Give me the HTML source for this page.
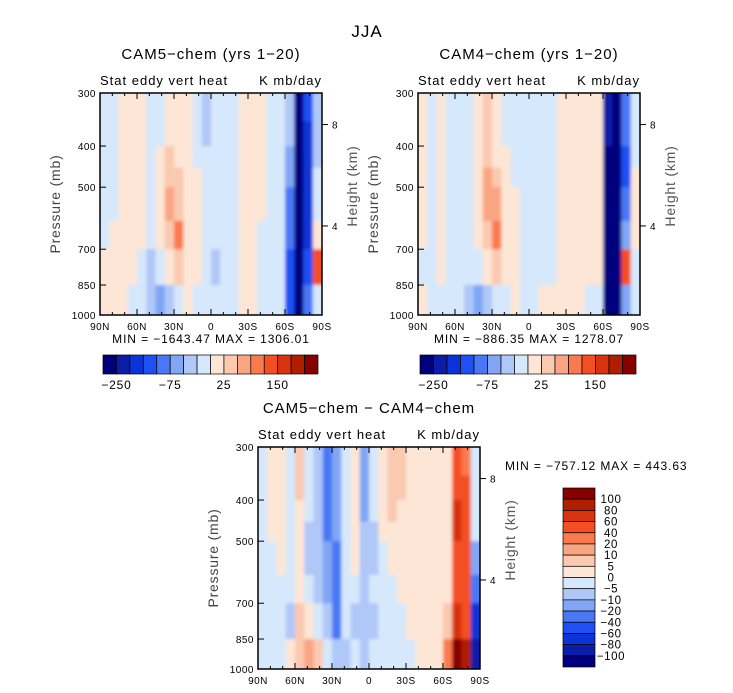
<!DOCTYPE html>
<html><head><meta charset="utf-8"><style>
body{margin:0;background:#fff}
svg{display:block;font-family:"Liberation Sans",sans-serif}
</style></head><body>
<svg id="c" width="733" height="693" viewBox="0 0 733 693" xmlns="http://www.w3.org/2000/svg">
<defs><filter id="soft" x="-5%" y="-5%" width="110%" height="110%"><feGaussianBlur stdDeviation="1.6"/></filter></defs>
<text x="367" y="37" font-size="17" letter-spacing="1" text-anchor="middle">JJA</text>
</svg>
<script>
const palette=['#00007f','#0a1ca8','#0a34d6','#1e50f5','#4a78f5','#80a6f5','#b0c8f8','#d6e8fb','#fde6d6','#fbc8b0','#f9a582','#f97a4e','#f44f22','#d83210','#b01e00','#870000'];
const colLats=[86.25,78.75,71.25,63.75,56.25,48.75,41.25,33.75,26.25,18.75,11.25,3.75,-3.75,-11.25,-18.75,-26.25,-33.75,-41.25,-48.75,-56.25,-63.75,-71.25,-78.75,-86.25];
const pressEdges=[300,350,400,450,500,600,700,850,1000];
const grid1=[
[7,7,8,8,8,7,7,8,8,8,7,6,7,7,7,8,8,8,7,7,6,0,3,6],
[7,7,8,8,8,7,7,8,8,8,7,6,7,7,7,8,8,8,7,7,6,0,2,6],
[7,7,8,8,8,7,8,9,8,8,7,7,7,7,7,8,8,8,7,7,5,0,2,6],
[7,7,8,8,8,7,8,9,9,8,8,7,7,7,7,8,8,8,7,7,5,0,2,7],
[7,7,8,8,8,7,8,10,9,8,8,7,7,7,7,8,8,8,7,7,4,0,2,7],
[7,8,8,8,8,7,8,9,11,8,8,7,7,7,7,8,8,7,7,7,4,0,2,8],
[8,8,8,8,7,6,7,8,9,8,8,7,6,7,7,8,8,7,7,7,3,0,3,12],
[8,8,8,7,7,6,5,6,7,8,7,7,7,7,7,8,8,7,7,7,3,0,4,7]];
const grid2=[
[8,7,8,7,7,7,8,9,8,7,7,7,7,7,7,8,8,8,8,8,1,0,4,7],
[8,7,8,7,7,7,8,9,8,7,7,7,7,7,7,8,8,8,8,8,1,0,4,7],
[8,7,8,7,7,7,8,9,8,8,7,7,7,7,7,8,8,8,8,8,0,0,3,7],
[8,7,8,7,7,7,8,10,9,8,7,7,7,7,7,8,8,8,8,8,0,0,3,8],
[8,7,8,7,7,7,8,10,10,8,8,7,7,7,7,8,8,8,8,8,0,0,4,8],
[8,7,8,7,7,7,8,9,11,8,8,7,7,7,7,8,8,8,8,8,0,0,5,8],
[7,7,8,7,7,7,7,8,9,8,8,7,7,7,7,8,8,8,8,8,0,0,12,7],
[8,7,7,7,7,6,5,6,7,7,8,7,7,8,8,8,8,8,7,7,0,0,5,7]];
const grid3=[
[7,8,8,7,9,7,6,4,5,7,8,5,7,8,9,9,8,8,8,8,8,12,11,7],
[7,8,8,7,9,7,6,4,5,7,8,5,7,8,9,9,8,8,8,8,8,12,12,7],
[7,8,8,7,8,7,6,4,5,7,8,5,7,8,9,8,8,8,8,8,8,13,12,7],
[7,8,8,7,8,6,6,4,5,7,8,6,6,8,8,8,8,8,8,8,8,13,12,7],
[7,7,8,7,8,6,6,5,4,7,8,6,6,7,8,8,8,8,8,8,8,12,12,5],
[7,7,7,7,8,7,6,5,4,7,7,6,7,7,7,8,8,8,8,8,8,12,12,4],
[7,7,7,6,9,8,7,6,4,7,6,6,6,7,7,7,8,8,8,8,9,13,12,2],
[7,7,7,8,9,10,9,7,6,6,7,6,7,7,7,7,7,8,8,8,11,15,14,1]];
const latTicks=[90,60,30,0,-30,-60,-90];
const latTickLabels=['90N','60N','30N','0','30S','60S','90S'];
const pTicks=[300,400,500,700,850,1000];
const hTicks=[{h:8,p:356},{h:4,p:617}];
const barLabels12=['\u2212250','\u221275','25','150'];
const barLabels3=['100','80','60','40','20','10','5','0','\u22125','\u221210','\u221220','\u221240','\u221260','\u221280','\u2212100'];

const svg=document.getElementById('c');
const NS='http://www.w3.org/2000/svg';
function mk(tag,attrs,parent){const e=document.createElementNS(NS,tag);for(const k in attrs)e.setAttribute(k,attrs[k]);(parent||svg).appendChild(e);return e;}
function txt(x,y,s,size,anchor,parent,ls){const t=mk('text',{x:x,y:y,'font-size':size,'text-anchor':anchor||'middle','letter-spacing':ls||0},parent);t.textContent=s;return t;}
let clipN=0;
function panel(id,L,T,W,H,grid,title,minmax,mmx,mmy,mmAnchor){
  const g=mk('g',{});
  
  
  const xs=lat=>L+(90-lat)/180*W;
  const ys=p=>T+H-Math.log(1000/p)/Math.log(1000/300)*H;
  const cid='clip'+(clipN++);
  const cp=mk('clipPath',{id:cid},svg.querySelector('defs'));
  mk('rect',{x:L,y:T,width:W,height:H},cp);
  const outer=mk('g',{'clip-path':`url(#${cid})`},g);
  mk('rect',{x:L,y:T,width:W,height:H,fill:palette[7]},outer);
  const cells=mk('g',{filter:'url(#soft)'},outer);
  for(let r=0;r<grid.length;r++)for(let c=0;c<colLats.length;c++){
    const x0=xs(colLats[c]+3.75),x1=xs(colLats[c]-3.75),y0=ys(pressEdges[r]),y1=ys(pressEdges[r+1]);
    const rc=mk('rect',{x:x0-(c===0?4:0),y:y0-(r===0?4:0),width:x1-x0+0.5+(c===0||c===23?4:0),height:y1-y0+0.5+(r===0||r===7?4:0),fill:palette[grid[r][c]]},cells);
    
    
  }
  mk('rect',{x:L,y:T,width:W,height:H,fill:'none',stroke:'#000','stroke-width':1.5},g);
  for(let lat=90;lat>=-90;lat-=10){
    const x=xs(lat),len=(lat%30===0)?6:3;
    mk('line',{x1:x,y1:T+H,x2:x,y2:T+H-len,stroke:'#000'},g);
    mk('line',{x1:x,y1:T,x2:x,y2:T+len,stroke:'#000'},g);
  }
  latTicks.forEach((lat,i)=>{const t=txt(xs(lat),T+H+15,latTickLabels[i],10,'middle',g,0.5);
    });
  pTicks.forEach(p=>{const y=ys(p);mk('line',{x1:L,y1:y,x2:L+6,y2:y,stroke:'#000'},g);
    const t=txt(L-4,y+4,String(p),10,'end',g,0.5);
    });
  hTicks.forEach(h=>{const y=ys(h.p);mk('line',{x1:L+W,y1:y,x2:L+W+6,y2:y,stroke:'#000'},g);
    const t=txt(L+W+10,y+4,String(h.h),10,'start',g);
    });
  const yl=txt(0,0,'Pressure (mb)',14,'middle',g,0.8);
  yl.setAttribute('transform',`translate(${L-40},${T+H/2}) rotate(-90)`);
  yl.setAttribute('fill','#444');
  
  const hl=txt(0,0,'Height (km)',14,'middle',g,0.8);
  hl.setAttribute('transform',`translate(${L+W+35},${T+H/2-18}) rotate(-90)`);
  hl.setAttribute('fill','#555');
  
  const tt=txt(L+W/2,T-34,title,15,'middle',g,1);
  
  const s1=txt(L,T-8,'Stat eddy vert heat',13,'start',g,1);
  
  const s2=txt(L+W,T-8,'K mb/day',13,'end',g,1);
  
  const mm=txt(mmx,mmy,minmax,12,mmAnchor,g,0.9);
  
}
function hbar(id,L,T,W,H){
  const g=mk('g',{});
  
  
  const bw=W/palette.length;
  palette.forEach((c,i)=>{const r=mk('rect',{x:L+i*bw,y:T,width:bw,height:H,fill:c,stroke:'#000','stroke-width':0.7},g);
    });
  barLabels12.forEach((s,i)=>{const t=txt(L+(1+4*i)*bw,T+H+15,s,12,'middle',g,0.8);
    });
}
function vbar(id,L,T,W,H){
  const g=mk('g',{});
  
  
  const bh=H/palette.length;
  palette.slice().reverse().forEach((c,i)=>{const r=mk('rect',{x:L,y:T+i*bh,width:W,height:bh,fill:c,stroke:'#000','stroke-width':0.7},g);
    });
  barLabels3.forEach((s,i)=>{const t=txt(L+W+16,T+(i+1)*bh+4,s,11.5,'middle',g,0.6);
    });
}
panel('panel-cam5',100,93,222,222,grid1,'CAM5\u2212chem (yrs 1\u221220)','MIN = \u22121643.47   MAX = 1306.01',211,343,'middle');
panel('panel-cam4',418,93,222,222,grid2,'CAM4\u2212chem (yrs 1\u221220)','MIN = \u2212886.35   MAX = 1278.07',529,343,'middle');
panel('panel-diff',258,447,222,222,grid3,'CAM5\u2212chem \u2212 CAM4\u2212chem','MIN = \u2212757.12   MAX = 443.63',505,470,'start');
hbar('colorbar-cam5',103,355,215,19);
hbar('colorbar-cam4',420,355,216,19);
vbar('colorbar-diff',563,488,32,179);
</script>
</body></html>
